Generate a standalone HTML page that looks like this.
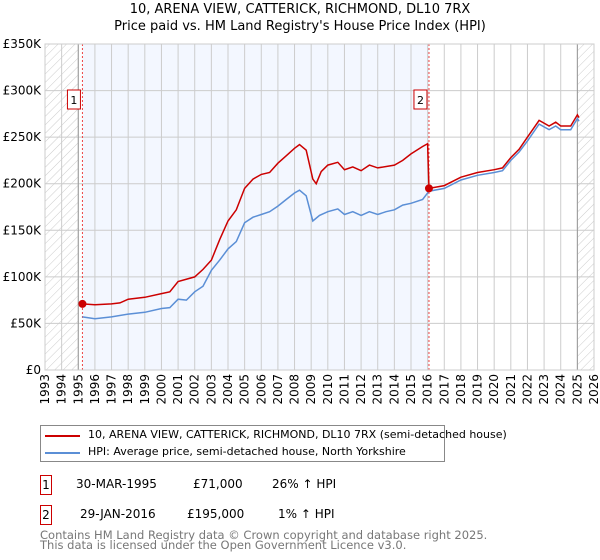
<!DOCTYPE html>
<html><head><meta charset="utf-8"><style>
body{margin:0;width:600px;height:560px;background:#fff;font-family:"DejaVu Sans","Liberation Sans",sans-serif;position:relative;overflow:hidden}
.t{position:absolute;font-size:12px;color:#000;white-space:nowrap}
.box{position:absolute;border:1px solid #c00;width:10px;height:18px;font-size:12px;text-align:center;line-height:18px;background:#fff}
</style></head><body>
<div class="t" style="left:0;width:600px;text-align:center;top:2px;font-size:13px">10, ARENA VIEW, CATTERICK, RICHMOND, DL10 7RX</div>
<div class="t" style="left:0;width:600px;text-align:center;top:19px;font-size:13px">Price paid vs. HM Land Registry's House Price Index (HPI)</div>
<svg id="chart" width="600" height="420" style="position:absolute;left:0;top:0">
<defs><pattern id="hatch" width="6" height="6" patternUnits="userSpaceOnUse" patternTransform="rotate(45)"><line x1="0" y1="0" x2="0" y2="6" stroke="#ccc" stroke-width="1"/></pattern></defs>
</svg>
<div style="position:absolute;left:40px;top:425px;width:403px;height:35px;border:1px solid #888">
<div style="position:absolute;left:4px;top:9px;width:35px;height:2px;background:#c00"></div>
<div class="t" style="left:47px;top:2px;font-size:11px">10, ARENA VIEW, CATTERICK, RICHMOND, DL10 7RX (semi-detached house)</div>
<div style="position:absolute;left:4px;top:26px;width:35px;height:2px;background:#5b8fd6"></div>
<div class="t" style="left:47px;top:19px;font-size:11px">HPI: Average price, semi-detached house, North Yorkshire</div>
</div>
<div class="box" style="left:40px;top:475px">1</div>
<div class="t" style="left:76px;top:477px">30-MAR-1995</div>
<div class="t" style="left:193px;top:477px">£71,000</div>
<div class="t" style="left:272px;top:477px">26% ↑ HPI</div>
<div class="box" style="left:40px;top:505px">2</div>
<div class="t" style="left:80px;top:507px">29-JAN-2016</div>
<div class="t" style="left:187px;top:507px">£195,000</div>
<div class="t" style="left:278px;top:507px">1% ↑ HPI</div>
<div class="t" style="left:40px;top:530px;color:#777;font-size:11.5px;line-height:10px">Contains HM Land Registry data © Crown copyright and database right 2025.<br>This data is licensed under the Open Government Licence v3.0.</div>
<script>
const yTicks=[0,50000,100000,150000,200000,250000,300000,350000];
const yTickLabels=["£0","£50K","£100K","£150K","£200K","£250K","£300K","£350K"];
const years=[1993,1994,1995,1996,1997,1998,1999,2000,2001,2002,2003,2004,2005,2006,2007,2008,2009,2010,2011,2012,2013,2014,2015,2016,2017,2018,2019,2020,2021,2022,2023,2024,2025,2026];
const hpiX=[1995.25,1996,1997,1998,1999,2000,2000.5,2001,2001.5,2002,2002.5,2003,2003.5,2004,2004.5,2005,2005.5,2006,2006.5,2007,2007.5,2008,2008.3,2008.7,2009.1,2009.5,2010,2010.6,2011,2011.5,2012,2012.5,2013,2013.5,2014,2014.5,2015,2015.7,2016.08,2017,2018,2019,2020,2020.5,2021,2021.5,2022,2022.7,2023.3,2023.7,2024,2024.6,2025,2025.1];
const hpiY=[57000,55000,57000,60000,62000,66000,67000,76000,75000,84000,90000,107000,118000,130000,138000,158000,164000,167000,170000,176000,183000,190000,193000,187000,160000,166000,170000,173000,167000,170000,166000,170000,167000,170000,172000,177000,179000,183000,192000,195000,204000,209000,212000,214000,225000,234000,246000,264000,258000,262000,258000,258000,270000,267000];
const ppX=[1995.25,1996,1997,1997.5,1998,1999,2000,2000.5,2001,2002,2002.5,2003,2003.5,2004,2004.5,2005,2005.5,2006,2006.5,2007,2007.5,2008,2008.3,2008.7,2009.1,2009.3,2009.6,2010,2010.6,2011,2011.5,2012,2012.5,2013,2014,2014.5,2015,2015.7,2016.0,2016.08,2017,2018,2019,2020,2020.5,2021,2021.5,2022,2022.7,2023.3,2023.7,2024,2024.6,2025,2025.1];
const ppY=[71000,70000,71000,72000,76000,78000,82000,84000,95000,100000,108000,118000,140000,160000,172000,195000,205000,210000,212000,222000,230000,238000,242000,236000,205000,200000,213000,220000,223000,215000,218000,214000,220000,217000,220000,225000,232000,240000,243000,195000,198000,207000,212000,215000,217000,228000,237000,250000,268000,262000,266000,262000,262000,274000,271000];
const sales=[{x:1995.25,y:71000,n:"1"},{x:2016.08,y:195000,n:"2"}];
const L=45,R=594,T=44,B=370;
const sx=v=>L+(v-1993)/(2026-1993)*(R-L);
const sy=v=>B-v/350000*(B-T);
const svg=document.getElementById('chart');const NS='http://www.w3.org/2000/svg';
function mk(tag,a,parent){const e=document.createElementNS(NS,tag);for(const k in a)e.setAttribute(k,a[k]);(parent||svg).appendChild(e);return e;}
let e;
e=mk('rect',{x:sx(sales[0].x),y:T,width:sx(sales[1].x)-sx(sales[0].x),height:B-T,fill:'#f3f7ff'});


e=mk('rect',{x:L,y:T,width:sx(1995)-L,height:B-T,fill:'url(#hatch)'});


e=mk('rect',{x:sx(2025),y:T,width:R-sx(2025),height:B-T,fill:'url(#hatch)'});


years.forEach(y=>{e=mk('line',{x1:sx(y),x2:sx(y),y1:T,y2:B,stroke:'#ccc','stroke-width':1});


e=mk('text',{transform:`translate(${sx(y)+4},${B+4}) rotate(-90)`,'text-anchor':'end','font-size':12,'font-family':'DejaVu Sans, sans-serif'});e.textContent=y;

});
yTicks.forEach((v,i)=>{e=mk('line',{x1:L,x2:R,y1:sy(v),y2:sy(v),stroke:'#ccc','stroke-width':1});


e=mk('text',{x:L-4,y:sy(v)+4,'text-anchor':'end','font-size':12,'font-family':'DejaVu Sans, sans-serif'});e.textContent=yTickLabels[i];

});
[1995,2025].forEach(y=>{e=mk('line',{x1:sx(y),x2:sx(y),y1:T,y2:B,stroke:'#999','stroke-width':1});

});
sales.forEach(s=>{e=mk('line',{x1:sx(s.x),x2:sx(s.x),y1:T,y2:B,stroke:'#e44','stroke-width':1,'stroke-dasharray':'2,2'});

});
const pts=(X,Y)=>X.map((x,i)=>sx(x).toFixed(1)+','+sy(Y[i]).toFixed(1)).join(' ');
e=mk('polyline',{points:pts(hpiX,hpiY),fill:'none',stroke:'#5b8fd6','stroke-width':1.5});


e=mk('polyline',{points:pts(ppX,ppY),fill:'none',stroke:'#c00','stroke-width':1.5});


sales.forEach(s=>{e=mk('circle',{cx:sx(s.x),cy:sy(s.y),r:4,fill:'#c00'});


const g=mk('g',{});


mk('rect',{x:sx(s.x)-15,y:90,width:13,height:19,fill:'#fff',stroke:'#c00'},g);
const t=mk('text',{x:sx(s.x)-8.5,y:104,'text-anchor':'middle','font-size':11,'font-family':'DejaVu Sans, sans-serif'},g);t.textContent=s.n;});
e=mk('rect',{x:L,y:T,width:R-L,height:B-T,fill:'none',stroke:'#ccc'});


</script>
</body></html>
